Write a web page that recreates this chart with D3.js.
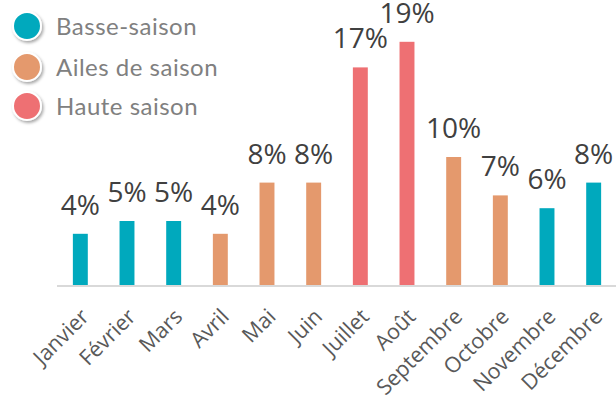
<!DOCTYPE html>
<html>
<head>
<meta charset="utf-8">
<script src="https://cdn.jsdelivr.net/npm/d3@7"></script>
<style>
  body { margin: 0; background: #fff; }
  svg { display: block; }
</style>
</head>
<body>
<div id="chart"></div>
<script>
// Data
const months = ["Janvier", "Février", "Mars", "Avril", "Mai", "Juin", "Juillet", "Août", "Septembre", "Octobre", "Novembre", "Décembre"];
const shares = [4, 5, 5, 4, 8, 8, 17, 19, 10, 7, 6, 8];
const seasons = ["basse", "basse", "basse", "ailes", "ailes", "ailes", "haute", "haute", "ailes", "ailes", "basse", "basse"];
const seasonKeys = ["basse", "ailes", "haute"];
const seasonLabels = ["Basse-saison", "Ailes de saison", "Haute saison"];

const width = 616, height = 401;
const colors = { basse: "#00A9BD", ailes: "#E4996D", haute: "#EE7073" };

const svg = d3.select("#chart").append("svg")
  .attr("width", width).attr("height", height);

// drop shadow for legend dots
const defs = svg.append("defs");
defs.append("filter").attr("id", "shadow")
  .attr("x", "-50%").attr("y", "-50%").attr("width", "200%").attr("height", "200%")
  .append("feDropShadow")
  .attr("dx", 1.5).attr("dy", 2).attr("stdDeviation", 1.5)
  .attr("flood-color", "#000").attr("flood-opacity", 0.35);

const x = d3.scaleBand().domain(months).range([57, 617])
  .paddingInner(0.68).paddingOuter(0.34);
const y = d3.scaleLinear().domain([0, 20]).range([285, 29]);

// baseline
svg.append("line")
  .attr("x1", 57).attr("x2", 616)
  .attr("y1", y(0) + 1).attr("y2", y(0) + 1)
  .attr("stroke", "#D9D9D9").attr("stroke-width", 2);

const data = months.map((m, i) => ({ month: m, value: shares[i], season: seasons[i] }));

svg.selectAll(".bar").data(data).join("rect")
  .attr("class", "bar")
  .attr("x", d => x(d.month))
  .attr("y", d => y(d.value))
  .attr("width", x.bandwidth())
  .attr("height", d => y(0) - y(d.value))
  .attr("fill", d => colors[d.season]);

svg.selectAll(".val").data(data).join("text")
  .attr("class", "val")
  .attr("x", d => x(d.month) + x.bandwidth() / 2)
  .attr("y", d => y(d.value) - 19)
  .attr("text-anchor", "middle")
  .attr("font-family", "Open Sans, sans-serif")
  .attr("font-size", "28px")
  .attr("fill", "#404040")
  .text(d => d.value + "%");

// x axis labels, rotated
svg.selectAll(".tick-label").data(months).join("text")
  .attr("class", "tick-label")
  .attr("transform", d => `translate(${x(d) + x.bandwidth() / 2 + 10}, 318) rotate(-45)`)
  .attr("text-anchor", "end")
  .attr("font-family", "Open Sans, sans-serif")
  .attr("font-size", "21.5px")
  .attr("fill", "#595959")
  .text(d => d);

// legend
const legend = svg.append("g");
const rowY = [26, 67, 106];
seasonKeys.forEach((k, i) => {
  const g = legend.append("g").attr("transform", `translate(27, ${rowY[i]})`);
  g.append("circle").attr("r", 14)
    .attr("fill", colors[k])
    .attr("stroke", "#fff").attr("stroke-width", 2)
    .attr("filter", "url(#shadow)");
  g.append("text")
    .attr("x", 29).attr("y", 9)
    .attr("font-family", "Lato, sans-serif")
    .attr("font-size", "24px")
    .attr("letter-spacing", "0.5px")
    .attr("fill", "#808080")
    .text(seasonLabels[i]);
});
</script>
</body>
</html>
